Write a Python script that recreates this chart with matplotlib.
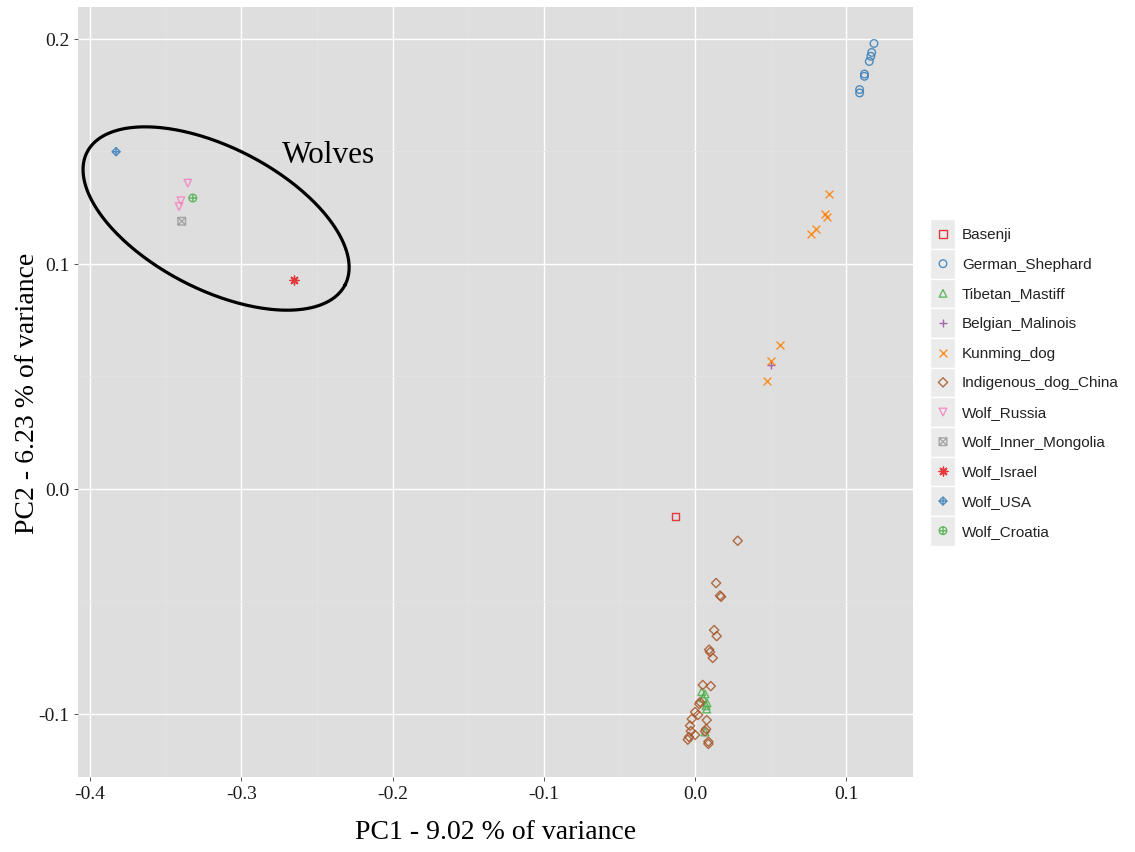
import numpy as np
import matplotlib
matplotlib.use("Agg")
import matplotlib.pyplot as plt
from matplotlib.path import Path
from matplotlib.patches import Rectangle

plt.rcParams['axes.unicode_minus'] = False

# PCA coordinates per population
basenji_x = [-0.0128]
basenji_y = [-0.0121]

shepherd_x = [0.1183, 0.1168, 0.1162, 0.1152, 0.1120, 0.1120, 0.1088, 0.1088]
shepherd_y = [0.1980, 0.1940, 0.1923, 0.1900, 0.1844, 0.1834, 0.1775, 0.1760]

mastiff_x = [0.0044, 0.0066, 0.0053, 0.0079, 0.0073, 0.0077, 0.0066]
mastiff_y = [-0.0901, -0.0911, -0.0929, -0.0951, -0.0963, -0.0978, -0.1080]

malinois_x = [0.0500]
malinois_y = [0.0550]

kunming_x = [0.0888, 0.0860, 0.0870, 0.0800, 0.0765, 0.0562, 0.0500, 0.0478]
kunming_y = [0.1311, 0.1222, 0.1208, 0.1156, 0.1133, 0.0640, 0.0570, 0.0479]

indigenous_x = [0.0282, 0.0139, 0.0165, 0.0172, 0.0126, 0.0143, 0.0093, 0.0099,
                0.0117, 0.0051, 0.0104, 0.0033, 0.0028, 0.0000, 0.0020, -0.0022,
                0.0077, -0.0033, 0.0073, 0.0066, -0.0028, 0.0000, -0.0040,
                -0.0048, 0.0088, 0.0088]
indigenous_y = [-0.0230, -0.0418, -0.0474, -0.0479, -0.0627, -0.0654, -0.0714,
                -0.0725, -0.0751, -0.0871, -0.0876, -0.0947, -0.0956, -0.0991,
                -0.1004, -0.1022, -0.1027, -0.1052, -0.1067, -0.1077, -0.1076,
                -0.1093, -0.1102, -0.1114, -0.1123, -0.1133]

russia_x = [-0.3354, -0.3400, -0.3412]
russia_y = [0.1359, 0.1281, 0.1255]

mongolia_x = [-0.3394]
mongolia_y = [0.1190]

israel_x = [-0.2649]
israel_y = [0.0930]

usa_x = [-0.3828]
usa_y = [0.1499]

croatia_x = [-0.3321]
croatia_y = [0.1293]

names = ["Basenji", "German_Shephard", "Tibetan_Mastiff", "Belgian_Malinois",
         "Kunming_dog", "Indigenous_dog_China", "Wolf_Russia",
         "Wolf_Inner_Mongolia", "Wolf_Israel", "Wolf_USA", "Wolf_Croatia"]
xs = [basenji_x, shepherd_x, mastiff_x, malinois_x, kunming_x, indigenous_x,
      russia_x, mongolia_x, israel_x, usa_x, croatia_x]
ys = [basenji_y, shepherd_y, mastiff_y, malinois_y, kunming_y, indigenous_y,
      russia_y, mongolia_y, israel_y, usa_y, croatia_y]

set1 = ['#E41A1C', '#377EB8', '#4DAF4A', '#984EA3', '#FF7F00', '#A65628',
        '#F781BF', '#999999']
colors = [set1[i % len(set1)] for i in range(len(names))]

# ggplot-style point shapes 0..10
M, L, C = Path.MOVETO, Path.LINETO, Path.CLOSEPOLY
plus = Path([(-1, 0), (1, 0), (0, -1), (0, 1)], [M, L, M, L])
sq_cross = Path([(-1, -1), (1, -1), (1, 1), (-1, 1), (-1, -1),
                 (-1, -1), (1, 1), (-1, 1), (1, -1)],
                [M, L, L, L, C, M, L, M, L])
diamond_plus = Path.make_compound_path(
    Path([(0, -1), (1, 0), (0, 1), (-1, 0), (0, -1)], [M, L, L, L, C]), plus)
circle_plus = Path.make_compound_path(Path.unit_circle(), plus)

markers = ['s', 'o', '^', '+', 'x', 'D', 'v', sq_cross, (8, 2, 0),
           diamond_plus, circle_plus]
sizes = [26, 30, 30, 40, 32, 22, 30, 30, 40, 34, 30]
unfilled = {'+', 'x'}


def draw_points(ax, x, y, mk, sz, col):
    if (isinstance(mk, str) and mk in unfilled) or isinstance(mk, tuple):
        ax.scatter(x, y, marker=mk, s=sz, color=col, linewidths=1.0,
                   alpha=0.85, zorder=3)
    else:
        ax.scatter(x, y, marker=mk, s=sz, facecolors='none', edgecolors=col,
                   linewidths=1.0, alpha=0.85, zorder=3)


serif = ['Liberation Serif', 'DejaVu Serif']
sans = ['Liberation Sans', 'DejaVu Sans']

fig = plt.figure(figsize=(11.35, 8.53), dpi=100)
ax = fig.add_axes([78 / 1135, 75 / 853, 835 / 1135, 770 / 853])
ax.set_facecolor('#dedede')

for x, y, mk, sz, col in zip(xs, ys, markers, sizes, colors):
    draw_points(ax, x, y, mk, sz, col)

ax.set_xlim(-0.408, 0.1441)
ax.set_ylim(-0.128, 0.2142)
ax.set_xticks([-0.4, -0.3, -0.2, -0.1, 0.0, 0.1])
ax.set_yticks([-0.1, 0.0, 0.1, 0.2])
ax.set_xticks(np.arange(-0.35, 0.14, 0.1), minor=True)
ax.set_yticks([-0.05, 0.05, 0.15], minor=True)
ax.grid(which='major', color='white', linewidth=1.0)
ax.grid(which='minor', color='#e3e3e3', linewidth=0.6)
ax.set_axisbelow(True)
for s in ax.spines.values():
    s.set_visible(False)
ax.tick_params(which='major', length=3, width=0.7, color='#555555', pad=3,
               labelsize=14, labelcolor='#1a1a1a')
ax.tick_params(which='minor', length=0)
for lab in ax.get_xticklabels() + ax.get_yticklabels():
    lab.set_family(serif)

ax.set_xlabel("PC1 - 9.02 % of variance", family=serif, fontsize=20,
              labelpad=12)
fig.text(28 / 1135, (853 - 393) / 853, "PC2 - 6.23 % of variance",
         family=serif, fontsize=20, rotation=90, ha='center', va='center')

# wolf cluster outline
cx, cy = -0.3167, 0.1202
t = np.linspace(0, 2 * np.pi, 300)
ex = cx + 0.0853 * np.cos(t) + 0.0215 * np.sin(t)
ey = cy - 0.0295 * np.cos(t) + 0.0281 * np.sin(t)
ax.plot(ex, ey, color='black', linewidth=2.3, zorder=4)
ax.text(-0.2426, 0.1453, "Wolves", family=serif, fontsize=22.5,
        ha='center', va='baseline')

# legend drawn in pixel units
lg = fig.add_axes([925 / 1135, (853 - 560) / 853, 210 / 1135, 360 / 853])
lg.set_xlim(925, 1135)
lg.set_ylim(560, 200)
lg.axis('off')
step = 29.67
for i, (name, mk, sz, col) in enumerate(zip(names, markers, sizes, colors)):
    yc = 235 + i * step
    lg.add_patch(Rectangle((930, yc - step / 2), 25, step,
                           facecolor='#ebebeb', edgecolor='white',
                           linewidth=1.0))
    draw_points(lg, [943], [yc], mk, sz, col)
    lg.text(962, yc, name, family=sans, fontsize=11, color='#222222',
            va='center', ha='left')

fig.savefig("out.png", dpi=100)
